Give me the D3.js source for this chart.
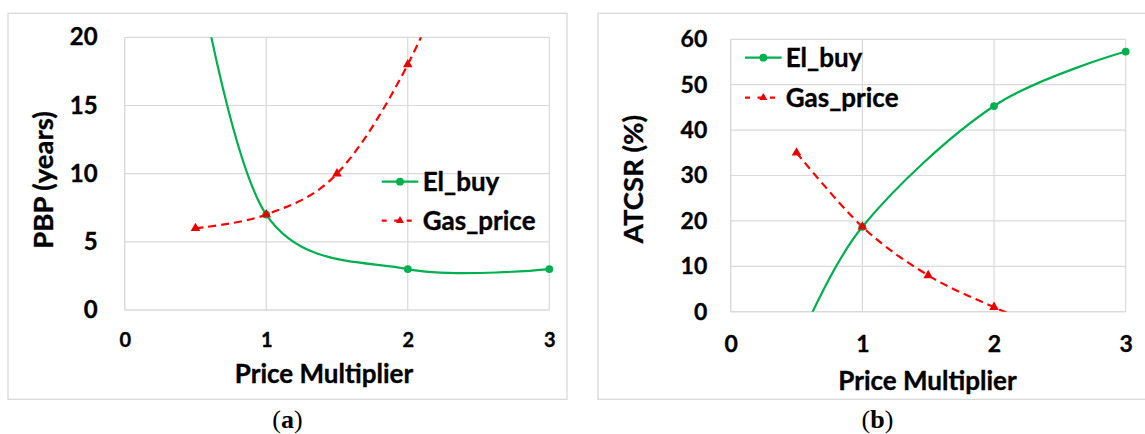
<!DOCTYPE html>
<html>
<head>
<meta charset="utf-8">
<script src="https://cdn.jsdelivr.net/npm/d3@7"></script>
<style>
  html, body { margin: 0; padding: 0; background: #fff; }
  svg { display: block; }
  text { font-family: Lato, "Open Sans", sans-serif; font-weight: 700; fill: #000;
         stroke: #000; stroke-width: 0.35px; paint-order: stroke; }
  text.caption { font-family: "Liberation Serif", "DejaVu Serif", serif; font-weight: 400; stroke: none; }
</style>
</head>
<body>
<svg id="chart" width="1145" height="434"></svg>
<script>
// ---- data ----
const xTicks = [0, 1, 2, 3];
const seriesNames = ["El_buy", "Gas_price"];

// price multipliers for each sensitivity series
const elBuyX = [0.5, 1, 2, 3];
const gasX = [0.5, 1, 1.5, 2, 2.5];

// (a) payback period, years
const pbpTicks = [0, 5, 10, 15, 20];
const pbpElBuy = [26, 7, 3, 3];
const pbpGas = [6, 7, 10, 18, 30];

// (b) annual total cost saving ratio, %
const atcsrTicks = [0, 10, 20, 30, 40, 50, 60];
const atcsrElBuy = [-8, 18.7, 45.3, 57.3];
const atcsrGas = [35, 18.7, 8, 1, -5];

// ---- styling ----
const GREEN = "#00b050";
const RED = "#ff0000";
const MARKER_RED = "#e60000";
const GRID = "#d9d9d9";

const svg = d3.select("#chart");

const panels = [
  {
    id: "a", caption: "a", yTitle: "PBP (years)", xTitle: "Price Multiplier",
    box: [8, 13.3, 567, 399.3],
    plot: { left: 124.7, right: 549.3, top: 37.3, bottom: 310 },
    yDomain: [0, 20], yTicks: pbpTicks,
    elBuy: pbpElBuy, gas: pbpGas,
    yTickSize: 24, yTickPad: 27, xTickSize: 20, xTickBase: 347,
    xTitleX: 324, xTitleBase: 383.3, titleSize: 26,
    yTitleX: 53.3, yTitleY: 180, yTitleSize: 27.5,
    legend: { x0: 381.7, x1: 418.3, tx: 422.7, y: [181.7, 220.7] },
    legendSize: 26, captionX: 287.5
  },
  {
    id: "b", caption: "b", yTitle: "ATCSR (%)", xTitle: "Price Multiplier",
    box: [598, 13.3, 1160, 399.3],
    plot: { left: 730.7, right: 1125.7, top: 39.3, bottom: 311.7 },
    yDomain: [0, 60], yTicks: atcsrTicks,
    elBuy: atcsrElBuy, gas: atcsrGas,
    yTickSize: 23, yTickPad: 23.4, xTickSize: 23, xTickBase: 352.3,
    xTitleX: 927.5, xTitleBase: 390, titleSize: 26,
    yTitleX: 643.3, yTitleY: 179, yTitleSize: 27.5,
    legend: { x0: 745, x1: 781.7, tx: 785.7, y: [57.7, 97.7] },
    legendSize: 26, captionX: 877.5
  }
];

const tri = (size) => d3.symbol(d3.symbolTriangle, size)();

panels.forEach(p => {
  const g = svg.append("g").attr("class", "panel-" + p.id);

  // frame around the panel
  g.append("rect")
    .attr("x", p.box[0]).attr("y", p.box[1])
    .attr("width", p.box[2] - p.box[0]).attr("height", p.box[3] - p.box[1])
    .attr("fill", "none").attr("stroke", GRID).attr("stroke-width", 1.3);

  const x = d3.scaleLinear().domain([0, 3]).range([p.plot.left, p.plot.right]);
  const y = d3.scaleLinear().domain(p.yDomain).range([p.plot.bottom, p.plot.top]);

  // gridlines
  g.append("g").selectAll("line.h").data(p.yTicks).join("line")
    .attr("x1", p.plot.left).attr("x2", p.plot.right)
    .attr("y1", d => y(d)).attr("y2", d => y(d))
    .attr("stroke", GRID).attr("stroke-width", d => d === 0 ? 1.4 : 1.2);
  g.append("g").selectAll("line.v").data(xTicks).join("line")
    .attr("x1", d => x(d)).attr("x2", d => x(d))
    .attr("y1", p.plot.top).attr("y2", p.plot.bottom)
    .attr("stroke", GRID).attr("stroke-width", d => d === 0 ? 1.4 : 1.2);

  // axis labels
  const yAxis = g.append("g")
    .attr("transform", `translate(${p.plot.left},0)`)
    .call(d3.axisLeft(y).tickValues(p.yTicks).tickSize(0).tickPadding(p.yTickPad).tickFormat(d3.format("d")));
  yAxis.select(".domain").remove();
  yAxis.selectAll("text").attr("font-size", p.yTickSize).attr("fill", "#000")
    .style("font-family", "Lato, sans-serif").style("font-weight", 700);

  const dyX = 0.71 * p.xTickSize;
  const xAxis = g.append("g")
    .attr("transform", `translate(0,${p.plot.bottom})`)
    .call(d3.axisBottom(x).tickValues(xTicks).tickSize(0)
      .tickPadding(p.xTickBase - p.plot.bottom - dyX).tickFormat(d3.format("d")));
  xAxis.select(".domain").remove();
  xAxis.selectAll("text").attr("font-size", p.xTickSize).attr("fill", "#000")
    .style("font-family", "Lato, sans-serif").style("font-weight", 700);

  // axis titles
  g.append("text")
    .attr("x", p.xTitleX).attr("y", p.xTitleBase)
    .attr("text-anchor", "middle").attr("font-size", p.titleSize)
    .text(p.xTitle);
  g.append("text")
    .attr("transform", `translate(${p.yTitleX},${p.yTitleY}) rotate(-90)`)
    .attr("text-anchor", "middle").attr("font-size", p.yTitleSize)
    .text(p.yTitle);

  // clipped series lines
  const clipId = "clip-" + p.id;
  svg.append("defs").append("clipPath").attr("id", clipId)
    .append("rect")
    .attr("x", p.plot.left).attr("y", p.plot.top)
    .attr("width", p.plot.right - p.plot.left).attr("height", p.plot.bottom - p.plot.top);

  const line = d3.line().x(d => x(d[0])).y(d => y(d[1])).curve(d3.curveCardinal.tension(0));
  const elPts = elBuyX.map((v, i) => [v, p.elBuy[i]]);
  const gasPts = gasX.map((v, i) => [v, p.gas[i]]);
  const inside = d => d[1] >= p.yDomain[0] && d[1] <= p.yDomain[1];

  const lines = g.append("g").attr("clip-path", `url(#${clipId})`);
  lines.append("path").datum(elPts).attr("d", line)
    .attr("fill", "none").attr("stroke", GREEN).attr("stroke-width", 2.2);

  g.append("g").selectAll("circle").data(elPts.filter(inside)).join("circle")
    .attr("cx", d => x(d[0])).attr("cy", d => y(d[1])).attr("r", 3.9)
    .attr("fill", GREEN);

  lines.append("path").datum(gasPts).attr("d", line)
    .attr("fill", "none").attr("stroke", RED).attr("stroke-width", 2.2)
    .attr("stroke-dasharray", "8,5");

  g.append("g").selectAll("path.m").data(gasPts.filter(inside)).join("path")
    .attr("transform", d => `translate(${x(d[0])},${y(d[1])})`)
    .attr("d", tri(40)).attr("fill", MARKER_RED);

  // legend
  const lg = g.append("g");
  const L = p.legend;
  const mid = (L.x0 + L.x1) / 2;
  lg.append("line").attr("x1", L.x0).attr("x2", L.x1).attr("y1", L.y[0]).attr("y2", L.y[0])
    .attr("stroke", GREEN).attr("stroke-width", 2.2);
  lg.append("circle").attr("cx", mid).attr("cy", L.y[0]).attr("r", 3.9).attr("fill", GREEN);
  lg.append("line").attr("x1", L.x0).attr("x2", L.x1).attr("y1", L.y[1]).attr("y2", L.y[1])
    .attr("stroke", RED).attr("stroke-width", 2.2).attr("stroke-dasharray", "5,7.5");
  lg.append("path").attr("transform", `translate(${mid},${L.y[1]})`)
    .attr("d", tri(28)).attr("fill", MARKER_RED);
  seriesNames.forEach((name, i) => {
    lg.append("text").attr("x", L.tx).attr("y", L.y[i] + 8.8)
      .attr("font-size", p.legendSize).text(name);
  });

  // sub-figure caption
  const cap = g.append("text").attr("class", "caption")
    .attr("x", p.captionX).attr("y", 428).attr("text-anchor", "middle").attr("font-size", 26);
  cap.append("tspan").text("(");
  cap.append("tspan").attr("font-weight", 700).text(p.caption);
  cap.append("tspan").text(")");
});
</script>
</body>
</html>
